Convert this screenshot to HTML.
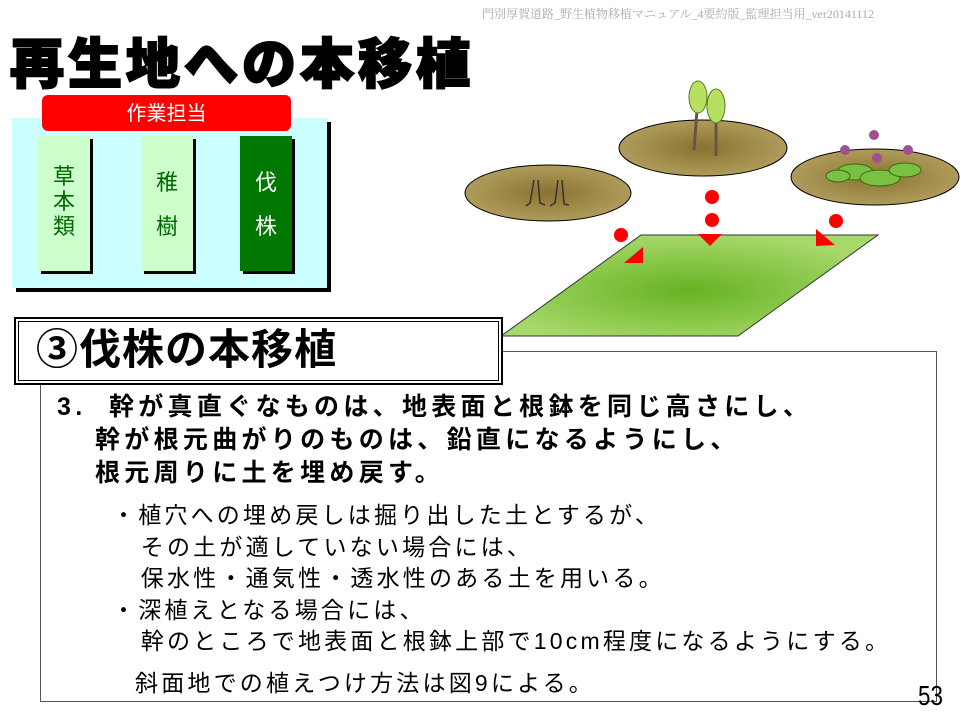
<!DOCTYPE html>
<html><head><meta charset="utf-8"><style>
body{margin:0;width:960px;height:720px;background:#fff;position:relative;overflow:hidden;font-family:"Liberation Sans","Noto Sans CJK JP",sans-serif}
.a{position:absolute;white-space:nowrap}
</style></head><body>
<div class="a" style="left:482px;top:5px;font-size:12px;color:#aaa;font-family:'Liberation Serif','Noto Serif CJK SC',serif">門別厚賀道路_野生植物移植マニュアル_4要約版_監理担当用_ver20141112</div>
<div class="a" style="left:10px;top:30px;font-size:54px;font-weight:900;line-height:70px;letter-spacing:4px;color:#000;-webkit-text-stroke:2px #000">再生地への本移植</div>

<div class="a" style="left:16px;top:122px;width:315px;height:170px;background:#000"></div>
<div class="a" style="left:12px;top:118px;width:315px;height:170px;background:#ccffff"></div>
<div class="a" style="left:42px;top:95px;width:249px;height:36px;background:#ff0000;border-radius:6px;color:#fff;font-size:20px;text-align:center;line-height:38px">作業担当</div>
<div class="a" style="left:41px;top:139px;width:52px;height:135px;background:#000"></div>
<div class="a" style="left:38px;top:136px;width:52px;height:135px;background:#ccffcc;color:#006600;font-size:22px;text-align:center;line-height:25px;padding-top:28px;box-sizing:border-box">草<br>本<br>類</div>
<div class="a" style="left:144px;top:139px;width:52px;height:135px;background:#000"></div>
<div class="a" style="left:141px;top:136px;width:52px;height:135px;background:#ccffcc;color:#006600;font-size:22px;text-align:center;line-height:44px;padding-top:25px;box-sizing:border-box">稚<br>樹</div>
<div class="a" style="left:243px;top:139px;width:52px;height:135px;background:#000"></div>
<div class="a" style="left:240px;top:136px;width:52px;height:135px;background:#007700;color:#fff;font-size:22px;text-align:center;line-height:44px;padding-top:25px;box-sizing:border-box">伐<br>株</div>

<svg class="a" style="left:0;top:0" width="960" height="720">
<defs>
<radialGradient id="g" cx="50%" cy="55%" r="55%"><stop offset="0" stop-color="#66b322"/><stop offset="1" stop-color="#a6d86a"/></radialGradient>
<radialGradient id="s" cx="50%" cy="50%" r="55%"><stop offset="0" stop-color="#8a7230"/><stop offset="1" stop-color="#b2a060"/></radialGradient>
</defs>
<ellipse cx="548" cy="193" rx="83" ry="28" fill="url(#s)" stroke="#000"/>
<ellipse cx="703" cy="148" rx="84" ry="28" fill="url(#s)" stroke="#000"/>
<ellipse cx="875" cy="177" rx="84" ry="28" fill="url(#s)" stroke="#000"/>
<path d="M534 180 L530 203 L526 206 M538 180 L540 203 L545 205" stroke="#333" fill="none" stroke-width="1.5"/>
<path d="M558 180 L555 203 L550 206 M562 180 L564 204 L569 205" stroke="#333" fill="none" stroke-width="1.5"/>
<line x1="697" y1="110" x2="694" y2="150" stroke="#654" stroke-width="3"/>
<line x1="716" y1="118" x2="716" y2="156" stroke="#654" stroke-width="3"/>
<ellipse cx="698" cy="97" rx="9" ry="16" fill="#b8e060" stroke="#5a7a20"/>
<ellipse cx="716" cy="106" rx="9" ry="17" fill="#b8e060" stroke="#5a7a20"/>
<g fill="#7ac043" stroke="#3a6a10">
<ellipse cx="855" cy="172" rx="18" ry="8"/><ellipse cx="880" cy="178" rx="20" ry="8"/><ellipse cx="905" cy="170" rx="16" ry="7"/><ellipse cx="838" cy="176" rx="12" ry="6"/>
</g>
<g fill="#a05090"><circle cx="845" cy="150" r="5"/><circle cx="874" cy="135" r="5"/><circle cx="877" cy="158" r="5"/><circle cx="908" cy="150" r="5"/></g>
<path d="M641 235 L878 235 L738 336 L501 336 Z" fill="url(#g)" stroke="#333"/>
<g fill="#f00">
<circle cx="621" cy="235" r="7"/><circle cx="712" cy="197" r="7"/><circle cx="712" cy="220" r="7"/><circle cx="836" cy="221" r="7"/>
<path d="M624 263 L643 263 L643 247 Z"/>
<path d="M698 234 L722 234 L710 246 Z"/>
<path d="M816 229 L835 245 L816 246 Z"/>
</g>
</svg>

<div class="a" style="left:40px;top:351px;width:895px;height:349px;border:1px solid #555"></div>
<div class="a" style="left:14px;top:317px;width:485px;height:64px;border:2px solid #000;background:#fff;box-shadow:inset 0 0 0 2px #fff,inset 0 0 0 3px #000"></div>
<div class="a" style="left:36px;top:325px;font-size:42px;font-weight:bold;line-height:50px;letter-spacing:1px;color:#000">③伐株の本移植</div>
<div class="a" style="left:57px;top:391px;font-size:25px;font-weight:bold;line-height:33px;letter-spacing:4.3px">3.&nbsp; 幹が真直ぐなものは、地表面と根鉢を同じ高さにし、<br><span style="padding-left:38px">幹が根元曲がりのものは、鉛直になるようにし、</span><br><span style="padding-left:38px">根元周りに土を埋め戻す。</span></div>
<div class="a" style="left:112px;top:500px;font-size:23px;line-height:31.5px;letter-spacing:3.2px">・植穴への埋め戻しは掘り出した土とするが、<br>&nbsp;&nbsp;&nbsp;その土が適していない場合には、<br>&nbsp;&nbsp;&nbsp;保水性・通気性・透水性のある土を用いる。<br>・深植えとなる場合には、<br>&nbsp;&nbsp;&nbsp;幹のところで地表面と根鉢上部で10cm程度になるようにする。</div>
<div class="a" style="left:135px;top:668px;font-size:23px;line-height:31px;letter-spacing:3.2px">斜面地での植えつけ方法は図9による。</div>
<div class="a" style="left:918px;top:678px;font-size:28px;line-height:36px;transform:scaleX(0.8);transform-origin:left">53</div>
</body></html>
